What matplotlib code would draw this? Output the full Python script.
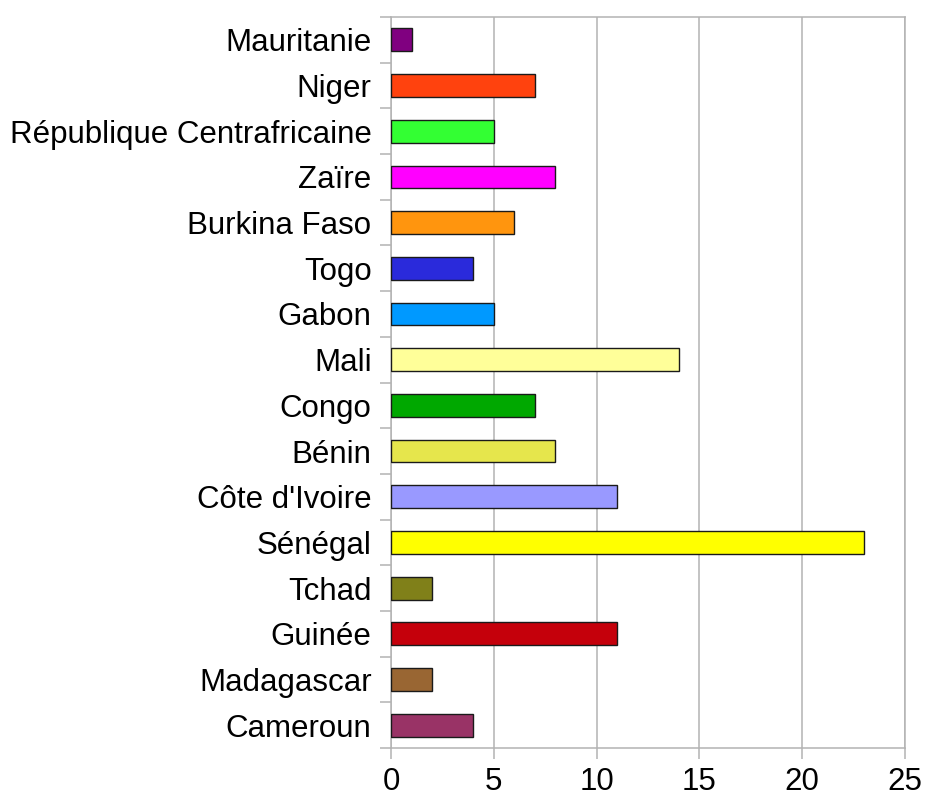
import matplotlib
matplotlib.use("Agg")
import matplotlib.pyplot as plt
import numpy as np

plt.rcParams['font.family'] = ['Liberation Sans', 'DejaVu Sans']

countries = ["Mauritanie", "Niger", "République Centrafricaine", "Zaïre", "Burkina Faso",
             "Togo", "Gabon", "Mali", "Congo", "Bénin", "Côte d'Ivoire", "Sénégal",
             "Tchad", "Guinée", "Madagascar", "Cameroun"]
values = [1, 7, 5, 8, 6, 4, 5, 14, 7, 8, 11, 23, 2, 11, 2, 4]
colors = ["#800080", "#ff420e", "#33ff33", "#ff00ff", "#ff950e", "#2a2adb", "#0099ff",
          "#ffff99", "#00a800", "#e6e64c", "#9999ff", "#ffff00", "#808019", "#c5000b",
          "#996633", "#993366"]
xticks = [0, 5, 10, 15, 20, 25]

fig = plt.figure(figsize=(9.25, 7.99), dpi=100)
ax = fig.add_axes([0.4227, 0.0638, 0.9784 - 0.4227, 0.9787 - 0.0638])

n = len(countries)
ypos = np.arange(n)
ax.barh(ypos, values, height=0.5, color=colors, edgecolor="#1a1a1a", linewidth=1.0, zorder=3)

ax.set_ylim(n - 0.5, -0.5)
ax.set_xlim(0, 25)
ax.set_xticks(xticks)
ax.set_xticklabels([str(t) for t in xticks])
ax.set_yticks(ypos)
ax.set_yticklabels(countries)
ax.set_yticks(np.arange(n + 1) - 0.5, minor=True)

grid_c = "#b3b3b3"
ax.grid(axis="x", color=grid_c, linewidth=1.1, zorder=0)
for s in ax.spines.values():
    s.set_color(grid_c)
    s.set_linewidth(1.1)

ax.tick_params(axis="y", which="major", length=0, pad=14, labelsize=22.5, colors="black")
ax.tick_params(axis="y", which="minor", length=8, width=1.1, color=grid_c)
ax.tick_params(axis="x", which="major", length=8, width=1.1, color=grid_c, pad=6, labelsize=22.5)

fig.savefig("out.png", dpi=100, facecolor="white")
